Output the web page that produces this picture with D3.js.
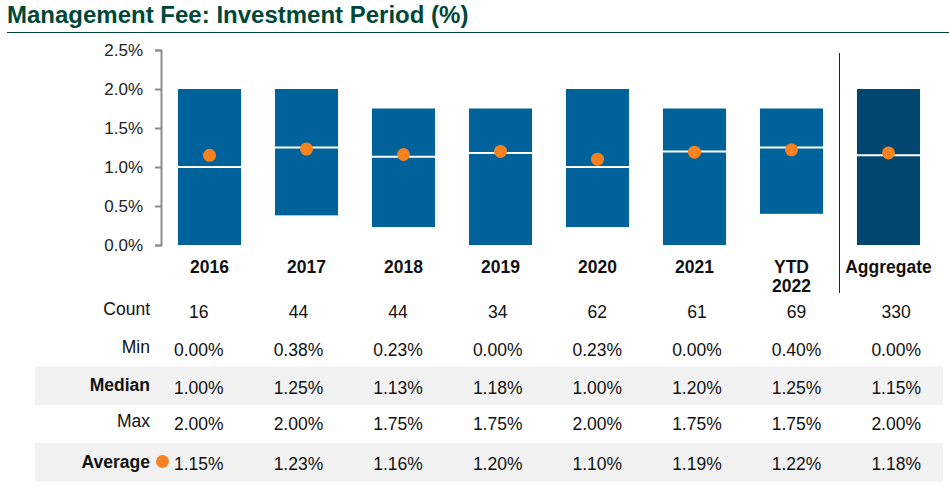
<!DOCTYPE html>
<html>
<head>
<meta charset="utf-8">
<script src="https://cdn.jsdelivr.net/npm/d3@7"></script>
<style>
  html, body { margin: 0; padding: 0; background: #fff; }
  svg { display: block; font-family: "Liberation Sans", Arial, sans-serif; }
</style>
</head>
<body>
<svg id="chart" width="949" height="494"></svg>
<script>
// ---- data ----
const categories = ["2016", "2017", "2018", "2019", "2020", "2021", "YTD 2022", "Aggregate"];
const counts  = [16, 44, 44, 34, 62, 61, 69, 330];
const minVals = [0.00, 0.38, 0.23, 0.00, 0.23, 0.00, 0.40, 0.00];
const medians = [1.00, 1.25, 1.13, 1.18, 1.00, 1.20, 1.25, 1.15];
const maxVals = [2.00, 2.00, 1.75, 1.75, 2.00, 1.75, 1.75, 2.00];
const averages = [1.15, 1.23, 1.16, 1.20, 1.10, 1.19, 1.22, 1.18];
const yTicks = [0, 0.5, 1.0, 1.5, 2.0, 2.5];
const rowLabels = ["Count", "Min", "Median", "Max", "Average"];

const svg = d3.select("#chart");
const font = "\"Liberation Sans\", Arial, sans-serif";

// title
svg.append("text").attr("x", 7).attr("y", 23)
  .attr("font-size", 24).attr("font-weight", "bold").attr("fill", "#00473a")
  .text("Management Fee: Investment Period (%)");
svg.append("line").attr("x1", 7).attr("x2", 949).attr("y1", 32.5).attr("y2", 32.5)
  .attr("stroke", "#00473a").attr("stroke-width", 1.2);

// scales
const x = d3.scaleBand().domain(categories).range([161, 937]).paddingInner(0.35).paddingOuter(0.175);
const y = d3.scaleLinear().domain([0, 2.5]).range([245, 50]);

// y axis
const yAxis = d3.axisLeft(y).tickValues(yTicks).tickFormat(d => d.toFixed(1) + "%").tickSize(6).tickSizeOuter(6);
const gy = svg.append("g").attr("transform", "translate(161,0)").call(yAxis);
gy.select(".domain").attr("stroke", "#8c8c8c").attr("stroke-width", 2);
gy.selectAll(".tick line").attr("stroke", "#8c8c8c").attr("stroke-width", 2);
gy.selectAll(".tick text").attr("font-size", 17).attr("font-family", font).attr("fill", "#222")
  .attr("x", -18).attr("dy", "0.35em");

// bars
const idx = categories.map((c, i) => i);
svg.append("g").selectAll("rect").data(idx).join("rect")
  .attr("x", i => x(categories[i]))
  .attr("width", x.bandwidth())
  .attr("y", i => y(maxVals[i]))
  .attr("height", i => y(minVals[i]) - y(maxVals[i]))
  .attr("fill", i => categories[i] === "Aggregate" ? "#00466e" : "#00629b");

// median lines
svg.append("g").selectAll("line").data(idx).join("line")
  .attr("x1", i => x(categories[i]))
  .attr("x2", i => x(categories[i]) + x.bandwidth())
  .attr("y1", i => y(medians[i]))
  .attr("y2", i => y(medians[i]))
  .attr("stroke", "#fff").attr("stroke-width", 2);

// average dots
svg.append("g").selectAll("circle").data(idx).join("circle")
  .attr("cx", i => x(categories[i]) + x.bandwidth() / 2)
  .attr("cy", i => y(averages[i]))
  .attr("r", 6.5)
  .attr("fill", "#f5821f");

// separator
svg.append("line").attr("x1", 839.5).attr("x2", 839.5).attr("y1", 53).attr("y2", 293)
  .attr("stroke", "#222").attr("stroke-width", 1);

// category labels
const catG = svg.append("g");
categories.forEach((c, i) => {
  const cx = x(c) + x.bandwidth() / 2;
  const parts = c === "YTD 2022" ? ["YTD", "2022"] : [c];
  const t = catG.append("text").attr("x", cx).attr("y", 273)
    .attr("text-anchor", "middle").attr("font-size", 17.5).attr("font-weight", "bold").attr("fill", "#111");
  parts.forEach((p, k) => {
    t.append("tspan").attr("x", cx).attr("dy", k === 0 ? 0 : 19).text(p);
  });
});

// table
const col = d3.scaleBand().domain(categories).range([149, 946]);
const rowCenters = [309, 347, 385, 421, 461.5];
const bandRows = [2, 4];
bandRows.forEach(r => {
  svg.append("rect").attr("x", 35).attr("width", 908)
    .attr("y", rowCenters[r] - 18.5).attr("height", 38.5).attr("fill", "#f2f2f2");
});
const pct = v => v.toFixed(2) + "%";
const rows = [counts.map(String), minVals.map(pct), medians.map(pct), maxVals.map(pct), averages.map(pct)];
rowLabels.forEach((lab, r) => {
  const bold = lab === "Median" || lab === "Average";
  svg.append("text").attr("x", 150).attr("y", rowCenters[r] + 6)
    .attr("text-anchor", "end").attr("font-size", 17.5)
    .attr("font-weight", bold ? "bold" : "normal").attr("fill", "#111")
    .text(lab);
  svg.append("g").selectAll("text").data(rows[r]).join("text")
    .attr("x", (d, i) => col(categories[i]) + col.bandwidth() / 2)
    .attr("y", rowCenters[r] + 8.5)
    .attr("text-anchor", "middle").attr("font-size", 17.5).attr("fill", "#111")
    .text(d => d);
});
svg.append("circle").attr("cx", 162.5).attr("cy", rowCenters[4]).attr("r", 6.5).attr("fill", "#f5821f");
</script>
</body>
</html>
